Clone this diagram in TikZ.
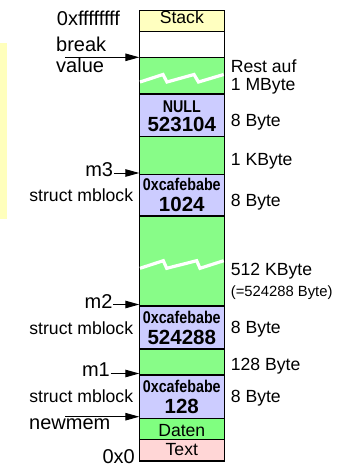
\documentclass[tikz,border=0pt]{standalone}
\usepackage{fontspec}
\setmainfont{Liberation Sans}
\usetikzlibrary{arrows.meta}
\definecolor{stackc}{RGB}{255,255,192}
\definecolor{heapc}{RGB}{136,252,136}
\definecolor{datc}{RGB}{128,255,128}
\definecolor{blkc}{RGB}{204,204,255}
\definecolor{txtc}{RGB}{255,214,214}
\definecolor{bandc}{RGB}{255,255,188}
\begin{document}
\begin{tikzpicture}[x=1pt,y=-1pt,
  seg/.style={draw=black, line width=1.2pt, minimum width=85pt, inner sep=0pt, outer sep=0pt, anchor=north west},
  lbl/.style={font=\fontsize{17.6}{20}\selectfont, inner sep=0pt},
  small/.style={font=\fontsize{14.8}{17}\selectfont, inner sep=0pt},
  big/.style={font=\fontsize{20}{22}\selectfont, inner sep=0pt},
  num/.style={font=\fontsize{20.5}{22}\selectfont\bfseries, inner sep=0pt, anchor=base},
  tag/.style={font=\fontsize{17}{19}\selectfont\bfseries, inner sep=0pt, anchor=base},
  ptr/.style={-{Triangle[length=14pt,width=7.5pt]}, line width=1pt},
  zig/.style={white, line width=3.2pt, line join=miter},
]
\useasboundingbox (0,0) rectangle (347,467);

% left yellow band
\node[fill=bandc, inner sep=0pt, minimum width=7.3pt, minimum height=176pt, anchor=north west] (band) at (0,42.3) {};

% memory column
\node[seg, fill=stackc, minimum height=21pt]   (stack) at (139.3,10.7) {};
\node[seg, fill=white,  minimum height=25.6pt] (free)  at (139.3,31.7) {};
\node[seg, fill=heapc,  minimum height=36.7pt] (rest)  at (139.3,57.3) {};
\node[seg, fill=blkc,   minimum height=42.7pt] (blk4)  at (139.3,94) {};
\node[seg, fill=heapc,  minimum height=37.6pt] (g3)    at (139.3,136.7) {};
\node[seg, fill=blkc,   minimum height=41.7pt] (blk3)  at (139.3,174.3) {};
\node[seg, fill=heapc,  minimum height=90pt]   (g2)    at (139.3,216) {};
\node[seg, fill=blkc,   minimum height=43pt]   (blk2)  at (139.3,306) {};
\node[seg, fill=heapc,  minimum height=26pt]   (g1)    at (139.3,349) {};
\node[seg, fill=blkc,   minimum height=43.3pt] (blk1)  at (139.3,375) {};
\node[seg, fill=datc,   minimum height=21pt]   (daten) at (139.3,418.3) {};
\node[seg, fill=txtc,   minimum height=21.7pt] (text)  at (139.3,439.3) {};

% zigzag breaks
\draw[zig] (140,82) -- (163,74.5) -- (167,82) -- (194,74.5) -- (198.5,82) -- (223.7,74.5);
\draw[zig] (140,268.3) -- (163.3,260.7) -- (166.7,268.3) -- (196.7,260.7) -- (200,268.3) -- (223.7,260.7);

% texts inside the column
\node[lbl, anchor=base] (tstack) at (181.8,23.3) {Stack};
\node[tag] (t4a) at (181.8,112.3) {\scalebox{0.84}[1]{NULL}};
\node[num] (t4b) at (181.8,131.3) {523104};
\node[tag] (t3a) at (181.8,190.7) {\scalebox{0.84}[1]{0xcafebabe}};
\node[num] (t3b) at (181.8,211.7) {1024};
\node[tag] (t2a) at (181.8,323.3) {\scalebox{0.84}[1]{0xcafebabe}};
\node[num] (t2b) at (181.8,344) {524288};
\node[tag] (t1a) at (181.8,392.7) {\scalebox{0.84}[1]{0xcafebabe}};
\node[num] (t1b) at (181.8,413.3) {128};
\node[lbl, anchor=base] (tdaten) at (181.8,436) {Daten};
\node[lbl, anchor=base] (ttext) at (181.8,455) {Text};

% right labels
\node[lbl, anchor=base west] (r1a) at (230.7,72.7) {Rest auf};
\node[lbl, anchor=base west] (r1b) at (230.7,90) {1 MByte};
\node[lbl, anchor=base west] (r2)  at (230.7,126.7) {8 Byte};
\node[lbl, anchor=base west] (r3)  at (230.7,165) {1 KByte};
\node[lbl, anchor=base west] (r4)  at (230.7,206) {8 Byte};
\node[lbl, anchor=base west] (r5)  at (230.7,275.7) {512 KByte};
\node[small, anchor=base west] (r5b) at (230.7,296.7) {(=524288 Byte)};
\node[lbl, anchor=base west] (r6)  at (230.7,333.3) {8 Byte};
\node[lbl, anchor=base west] (r7)  at (230.7,370) {128 Byte};
\node[lbl, anchor=base west] (r8)  at (230.7,402.7) {8 Byte};

% left labels
\node[big, anchor=base west] (ltop) at (56.7,25) {0xffffffff};
\node[big, anchor=base west] (lbreak) at (56,51.7) {break};
\node[big, anchor=base west] (lvalue) at (56,72.7) {value};
\node[big, anchor=base east] (lm3) at (113.3,176.7) {m3};
\node[lbl, anchor=base east] (ls3) at (133.3,201.7) {struct mblock};
\node[big, anchor=base east] (lm2) at (112.7,308.3) {m2};
\node[lbl, anchor=base east] (ls2) at (133.3,334) {struct mblock};
\node[big, anchor=base east] (lm1) at (110,376.7) {m1};
\node[lbl, anchor=base east] (ls1) at (133.3,402.7) {struct mblock};
\node[big, anchor=base west] (lnew) at (29,429) {newmem};
\node[big, anchor=base east] (lzero) at (135,463) {0x0};

% pointers
\coordinate (pbrk) at (65,57.3);
\coordinate (pm3) at (113.8,173);
\coordinate (pm2) at (113.2,304.5);
\coordinate (pm1) at (110.5,373.5);
\coordinate (pnew) at (65,416.7);
\draw[ptr] (pbrk) -- (pbrk -| rest.west);
\draw[ptr] (pm3) -- (pm3 -| blk3.west);
\draw[ptr] (pm2) -- (pm2 -| blk2.west);
\draw[ptr] (pm1) -- (pm1 -| blk1.west);
\draw[ptr] (pnew) -- (pnew -| daten.west);
\end{tikzpicture}
\end{document}
